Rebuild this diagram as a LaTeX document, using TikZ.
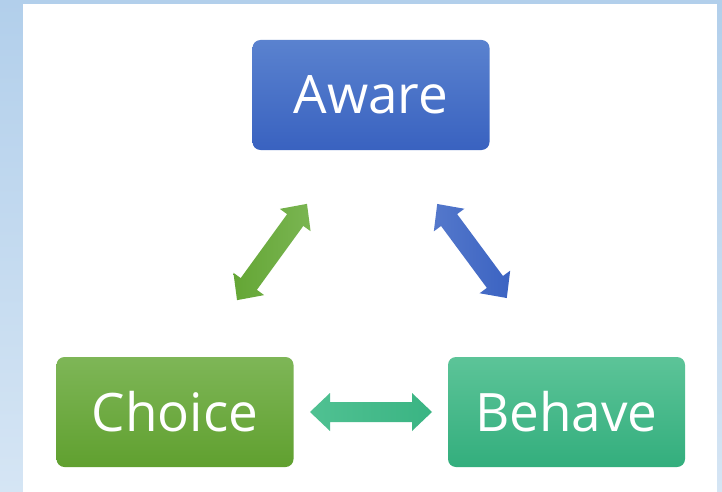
\documentclass[tikz,border=0pt]{standalone}
\usepackage{fontspec}
\setmainfont{Open Sans}
\definecolor{bgtop}{HTML}{B2CFEB}
\definecolor{bgbot}{HTML}{D5E5F4}
\definecolor{awtop}{HTML}{5A82CF}
\definecolor{awbot}{HTML}{3962C0}
\definecolor{chtop}{HTML}{7EB657}
\definecolor{chbot}{HTML}{60A02F}
\definecolor{betop}{HTML}{5CC498}
\definecolor{bebot}{HTML}{33AE7D}
\definecolor{gatop}{HTML}{7AB552}
\definecolor{gabot}{HTML}{64A635}
\definecolor{batop}{HTML}{5478CB}
\definecolor{babot}{HTML}{3B63C2}
\definecolor{tatop}{HTML}{50C192}
\definecolor{tabot}{HTML}{3AB483}
\tikzset{
  box/.style={rounded corners=8pt, minimum width=237pt, minimum height=110pt,
    inner sep=0pt, text=white, font=\fontsize{53}{60}\selectfont},
  pics/dblarr/.style n args={3}{code={
    \shade[left color=#2, right color=#3]
      (-#1,0) -- (-#1+20,-19) -- (-#1+20,-10) -- (#1-20,-10) -- (#1-20,-19)
      -- (#1,0) -- (#1-20,19) -- (#1-20,10) -- (-#1+20,10) -- (-#1+20,19) -- cycle;
  }}
}
\begin{document}
\begin{tikzpicture}[x=1pt,y=-1pt]
\useasboundingbox (0,0) rectangle (722,492);
\shade[top color=bgtop, bottom color=bgbot] (0,0) rectangle (722,492);
\fill[white] (23,4) rectangle (717,492);
\node[box, top color=awtop, bottom color=awbot] (aware) at (371,95) {Aware};
\node[box, top color=chtop, bottom color=chbot] (choice) at (175,412) {Choice};
\node[box, top color=betop, bottom color=bebot] (behave) at (566.5,412) {Behave};
\pic[shift={(272,252)}, rotate=54] (ga) {dblarr={59.5}{gabot}{gatop}};
\pic[shift={(472,251)}, rotate=-53.5] (ba) {dblarr={58.5}{batop}{babot}};
\pic[shift={(371,412)}] (ta) {dblarr={61}{tatop}{tabot}};
\end{tikzpicture}
\end{document}
